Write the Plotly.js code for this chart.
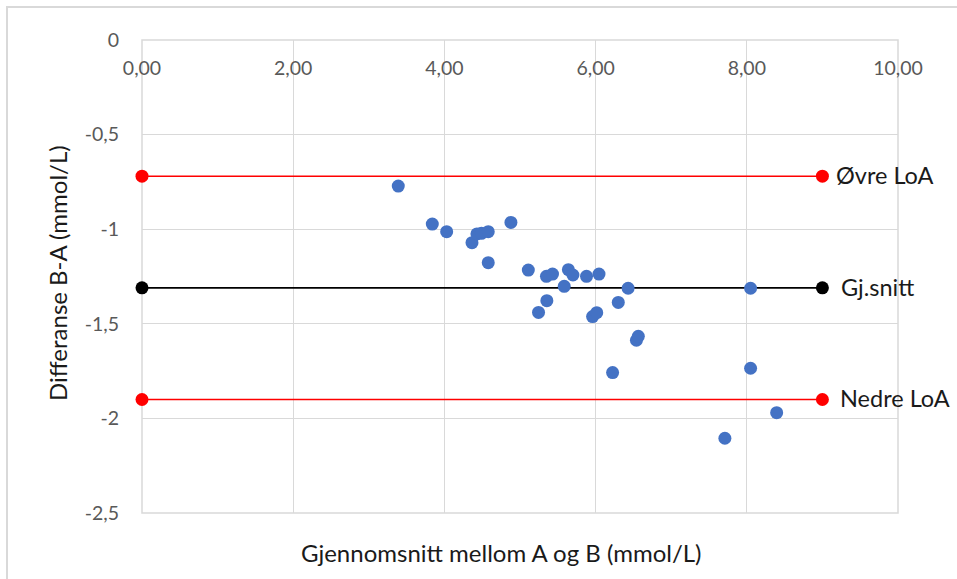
<!DOCTYPE html>
<html>
<head>
<meta charset="utf-8">
<script src="https://cdn.plot.ly/plotly-3.0.1.min.js"></script>
<style>
html,body{margin:0;padding:0;background:#fff;}
#chart{width:957px;height:579px;}
</style>
</head>
<body>
<div id="chart"></div>
<script>
// Scatter data: mean of A and B (x) vs difference B-A (y)
var meanAB = [3.39, 3.84, 4.03, 4.365, 4.43, 4.49, 4.58, 4.58, 4.88, 5.11,
              5.35, 5.43, 5.64, 5.70, 5.88, 6.045, 5.585, 5.355, 5.245, 5.96,
              6.015, 6.30, 6.43, 6.54, 6.565, 6.225, 8.05, 8.05, 8.395, 7.71];
var diffBA = [-0.772, -0.973, -1.013, -1.071, -1.025, -1.022, -1.013, -1.177, -0.964, -1.216,
              -1.249, -1.237, -1.214, -1.242, -1.249, -1.237, -1.302, -1.378, -1.440, -1.462,
              -1.441, -1.387, -1.312, -1.587, -1.566, -1.758, -1.312, -1.735, -1.970, -2.105];

// Reference lines
var lineNames  = ["Øvre LoA", "Gj.snitt", "Nedre LoA"];
var lineValues = [-0.72, -1.31, -1.90];
var lineColors = ["#FF0000", "#000000", "#FF0000"];
var lineXStart = 0;
var lineXEnd = 9;

// Axis ticks
var xTickVals = [0, 2, 4, 6, 8, 10];
var xTickText = ["0,00", "2,00", "4,00", "6,00", "8,00", "10,00"];
var yTickVals = [0, -0.5, -1, -1.5, -2, -2.5];
var yTickText = ["0", "-0,5", "-1", "-1,5", "-2", "-2,5"];

var FONT = "Lato, 'Open Sans', sans-serif";

var traces = [];
lineNames.forEach(function(name, i){
  traces.push({
    x: [lineXStart, lineXEnd],
    y: [lineValues[i], lineValues[i]],
    mode: "lines+markers",
    type: "scatter",
    name: name,
    line: {color: lineColors[i], width: 1.6},
    marker: {color: lineColors[i], size: 13},
    hoverinfo: "skip",
    cliponaxis: false
  });
});
traces.push({
  x: meanAB, y: diffBA,
  mode: "markers", type: "scatter", name: "Differanse",
  marker: {color: "#4472C4", size: 13},
  cliponaxis: false
});

var labelShift = {"Øvre LoA": 12, "Gj.snitt": 17, "Nedre LoA": 16};
var annotations = lineNames.map(function(name, i){
  return {
    x: lineXEnd, y: lineValues[i], xref: "x", yref: "y",
    text: name, showarrow: false, xanchor: "left", yanchor: "middle",
    xshift: labelShift[name], yshift: 1,
    font: {family: FONT, size: 23.5, color: "#1a1a1a"}
  };
});
annotations.push({
  x: (501-142)/756, y: (513-552)/473, xref: "paper", yref: "paper",
  text: "Gjennomsnitt mellom A og B (mmol/L)", showarrow: false,
  xanchor: "center", yanchor: "middle",
  font: {family: FONT, size: 24, color: "#1a1a1a"}
});
annotations.push({
  x: (57-142)/756, y: (513-273)/473, xref: "paper", yref: "paper",
  text: "Differanse B-A (mmol/L)", showarrow: false, textangle: -90,
  xanchor: "center", yanchor: "middle",
  font: {family: FONT, size: 24, color: "#1a1a1a"}
});

var layout = {
  width: 957, height: 579,
  margin: {l: 142, r: 59, t: 40, b: 66, pad: 0},
  paper_bgcolor: "#ffffff", plot_bgcolor: "#ffffff",
  showlegend: false,
  font: {family: FONT, size: 19.5, color: "#595959"},
  xaxis: {
    range: [0, 10], tickvals: xTickVals, ticktext: xTickText,
    anchor: "free", position: 1, side: "bottom",
    showgrid: true, gridcolor: "#d9d9d9", gridwidth: 1.3,
    zeroline: false, showline: false,
    ticks: "", ticklabelstandoff: 14,
    tickfont: {family: FONT, size: 19.5, color: "#595959"}
  },
  yaxis: {
    range: [-2.5, 0], tickvals: yTickVals, ticktext: yTickText,
    showgrid: true, gridcolor: "#d9d9d9", gridwidth: 1.3,
    zeroline: false, showline: false,
    ticks: "", ticklabelstandoff: 22,
    tickfont: {family: FONT, size: 19.5, color: "#595959"}
  },
  shapes: [
    {type: "rect", xref: "paper", yref: "paper", x0: 0, x1: 1, y0: 0, y1: 1,
     line: {color: "#d9d9d9", width: 1.5}, layer: "below"},
    {type: "rect", xref: "paper", yref: "paper",
     x0: (7-142)/756, x1: (965-142)/756, y0: (513-590)/473, y1: (513-7)/473,
     line: {color: "#d9d9d9", width: 2}, layer: "below"}
  ],
  annotations: annotations
};

Plotly.newPlot("chart", traces, layout, {displayModeBar: false, staticPlot: true});
</script>
</body>
</html>
